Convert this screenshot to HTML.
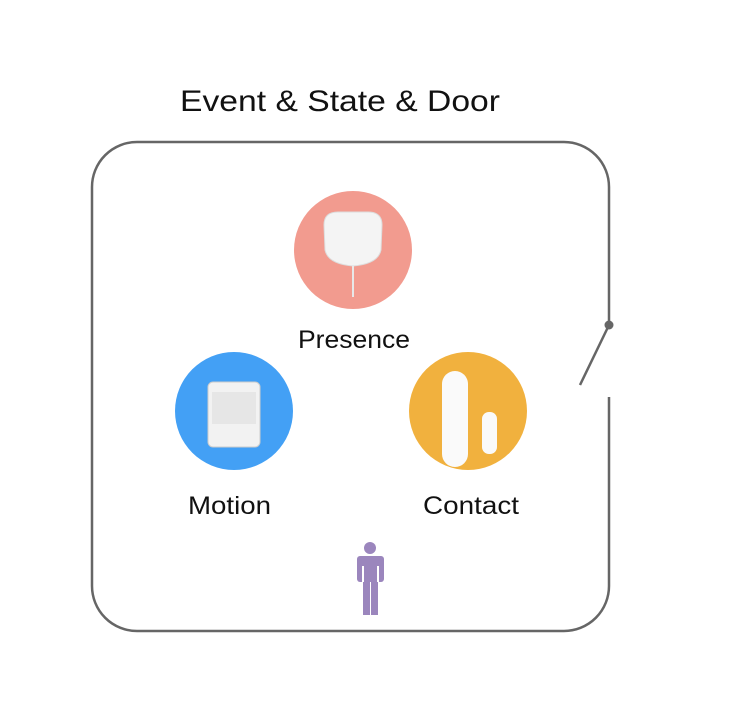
<!DOCTYPE html>
<html><head><meta charset="utf-8"><style>
body{margin:0;background:#fff;width:738px;height:708px;overflow:hidden}
svg{display:block}
text{font-family:"Liberation Sans",sans-serif;fill:#111}
</style></head><body>
<svg width="738" height="708" viewBox="0 0 738 708">
<text x="180" y="111" font-size="30" textLength="320" lengthAdjust="spacingAndGlyphs">Event &amp; State &amp; Door</text>
<path d="M609 325 L609 187 A45 45 0 0 0 564 142 L137 142 A45 45 0 0 0 92 187 L92 586 A45 45 0 0 0 137 631 L564 631 A45 45 0 0 0 609 586 L609 397" fill="none" stroke="#666" stroke-width="2.5"/>
<line x1="609" y1="325" x2="580" y2="385" stroke="#666" stroke-width="2.5"/>
<circle cx="609" cy="325" r="4.5" fill="#666"/>
<!-- presence -->
<circle cx="353" cy="250" r="59" fill="#f29b8f"/>
<path d="M324 225 Q324 212 338 212 L368 212 Q382 212 382 225 L381 250 Q378 264 353 266 Q328 264 325 250 Z" fill="#f4f4f4" stroke="#ddd"/>
<line x1="353" y1="266" x2="353" y2="297" stroke="#e8e8e8" stroke-width="2"/>
<text x="298" y="348" font-size="25" textLength="112" lengthAdjust="spacingAndGlyphs">Presence</text>
<!-- motion -->
<circle cx="234" cy="411" r="59" fill="#43a0f5"/>
<rect x="208" y="382" width="52" height="65" rx="5" fill="#f2f2f2" stroke="#ccc"/>
<rect x="212" y="392" width="44" height="32" fill="#e6e6e6"/>
<text x="188" y="514" font-size="25" textLength="83" lengthAdjust="spacingAndGlyphs">Motion</text>
<!-- contact -->
<circle cx="468" cy="411" r="59" fill="#f1b13e"/>
<rect x="442" y="371" width="26" height="96" rx="13" fill="#fafafa"/>
<rect x="482" y="412" width="15" height="42" rx="7" fill="#fafafa"/>
<text x="423" y="514" font-size="25" textLength="96" lengthAdjust="spacingAndGlyphs">Contact</text>
<!-- person -->
<g fill="#9b86bd">
<circle cx="370" cy="548" r="6"/>
<rect x="357" y="556" width="27" height="26" rx="3"/>
<rect x="363" y="578" width="7" height="37"/>
<rect x="371" y="578" width="7" height="37"/>
</g>
<rect x="362" y="566" width="2" height="16" fill="#fff"/>
<rect x="377" y="566" width="2" height="16" fill="#fff"/>
</svg>
</body></html>
